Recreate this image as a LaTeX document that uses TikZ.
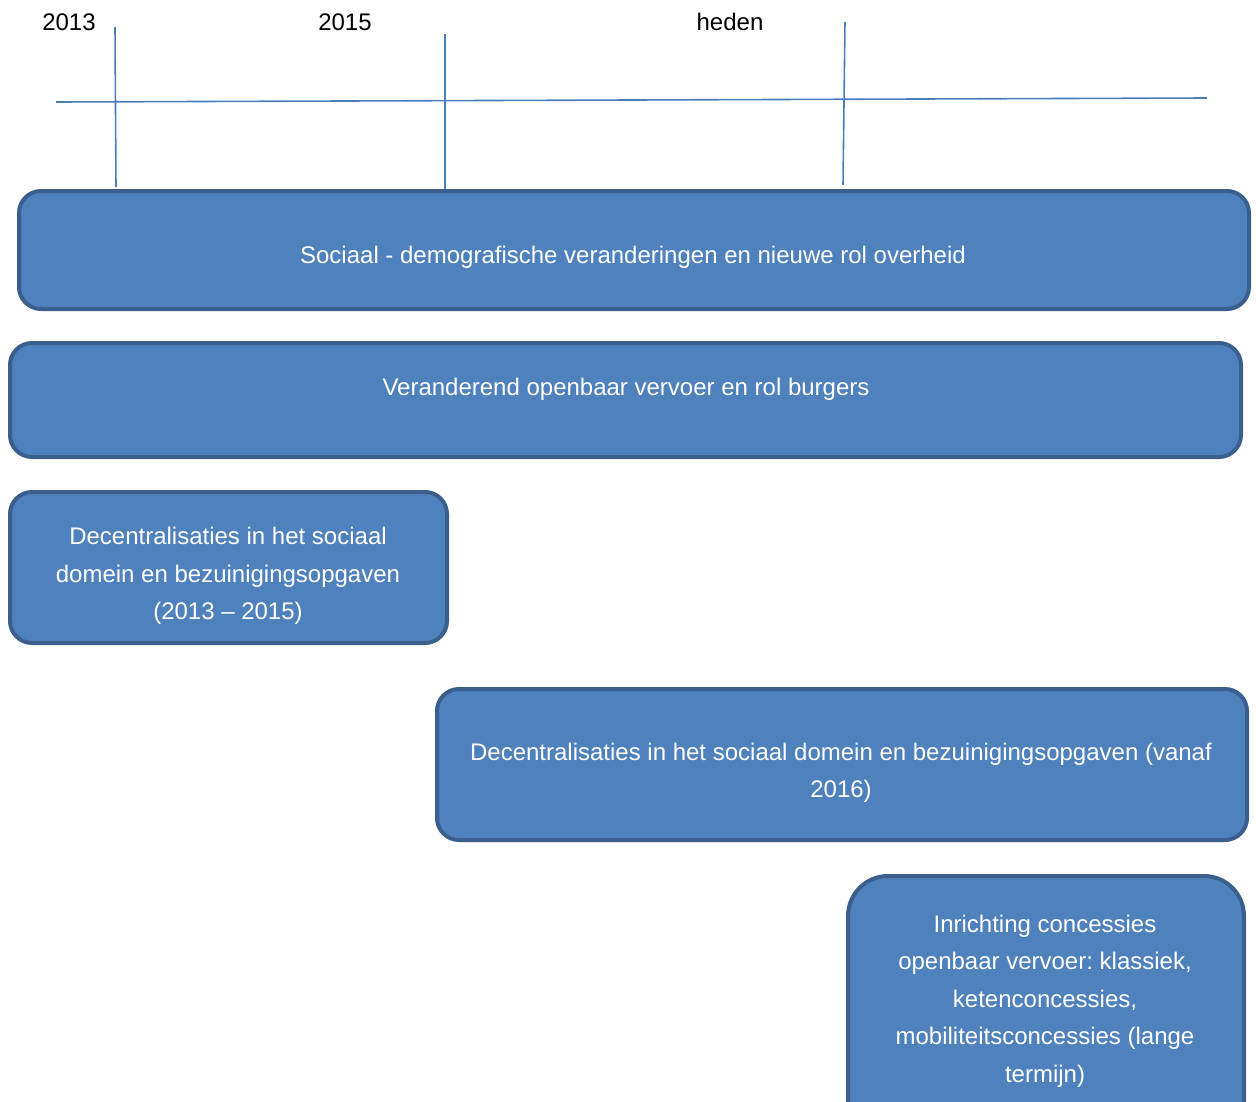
\documentclass[tikz,border=0pt]{standalone}
\usepackage{fontspec}
\setmainfont{Liberation Sans}
\frenchspacing
\definecolor{boxfill}{HTML}{4F81BD}
\definecolor{boxline}{HTML}{3A5F8D}
\definecolor{tline}{HTML}{4A7EBB}
\tikzset{
  stagebox/.style={fill=boxfill, draw=boxline, line width=4pt, rounded corners=22pt},
  stagetext/.style={text=white, align=center, font=\fontsize{24}{37.5}\selectfont, inner sep=0pt},
  yearlabel/.style={text=black, font=\fontsize{24}{28}\selectfont, inner sep=0pt},
  timeline/.style={draw=tline, line width=1.6pt}
}
\begin{document}
\begin{tikzpicture}[x=1pt,y=-1pt]
\useasboundingbox (0,0) rectangle (1256,1101);
\clip (0,0) rectangle (1256,1101);
% timeline
\coordinate (tl0) at (56,102);
\coordinate (tl1) at (1207,98);
\draw[timeline] (tl0) -- (tl1);
\coordinate (v1a) at (115,27); \coordinate (v1b) at (116,187);
\coordinate (v2a) at (445,34); \coordinate (v2b) at (445,189);
\coordinate (v3a) at (845,22); \coordinate (v3b) at (843,185);
\draw[timeline] (v1a) -- (v1b);
\draw[timeline] (v2a) -- (v2b);
\draw[timeline] (v3a) -- (v3b);
\node[yearlabel] (y2013) at (69,22) {2013};
\node[yearlabel] (y2015) at (345,22) {2015};
\node[yearlabel] (yheden) at (730,22) {heden};
% boxes
\draw[stagebox] (19,191) rectangle (1249,309);
\node[stagetext] (t1) at (633,257) {Sociaal - demografische veranderingen en nieuwe rol overheid};
\draw[stagebox] (10,343) rectangle (1241,457);
\node[stagetext] (t2) at (626,389) {Veranderend openbaar vervoer en rol burgers};
\draw[stagebox] (10,492) rectangle (447,643);
\node[stagetext] (t3) at (228,576) {Decentralisaties in het sociaal\\domein en bezuinigingsopgaven\\(2013 – 2015)};
\draw[stagebox] (437,689) rectangle (1247,840);
\node[stagetext] (t4) at (841,773) {Decentralisaties in het sociaal domein en bezuinigingsopgaven (vanaf\\2016)};
\draw[stagebox, rounded corners=40pt] (848,876) rectangle (1244,1160);
\node[stagetext] (t5) at (1045,1001) {Inrichting concessies\\openbaar vervoer: klassiek,\\ketenconcessies,\\mobiliteitsconcessies (lange\\termijn)};
\end{tikzpicture}
\end{document}
